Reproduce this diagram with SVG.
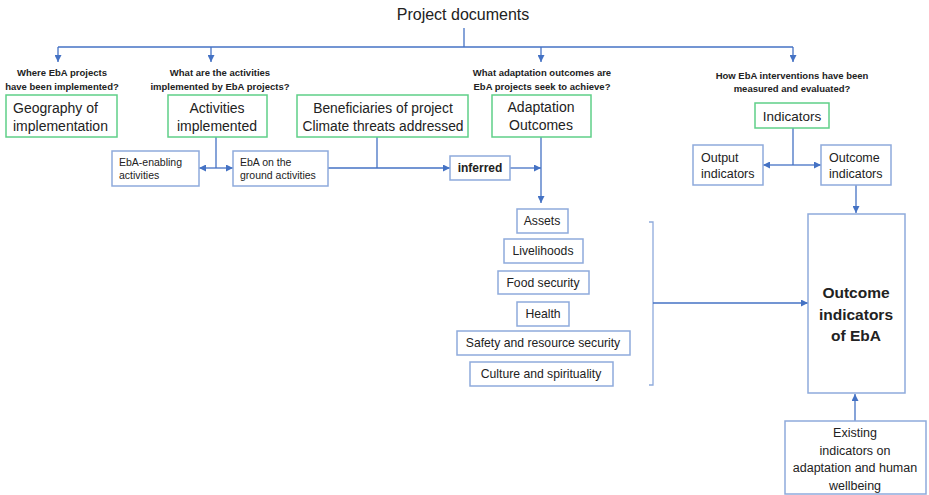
<svg xmlns="http://www.w3.org/2000/svg" width="929" height="495" viewBox="0 0 929 495">
<defs>
<marker id="ah" viewBox="0 0 8 8" refX="8" refY="4" markerWidth="7" markerHeight="7" markerUnits="userSpaceOnUse" orient="auto-start-reverse">
<path d="M0,0 L8,4 L0,8 z" fill="#4472C4"/>
</marker>
<style>
text{font-family:"Liberation Sans",Arial,sans-serif;fill:#222}
.g{fill:#fff;stroke:#5FCF88;stroke-width:1.5}
.b{fill:#fff;stroke:#8EAADC;stroke-width:1.5}
.c{fill:none;stroke:#4472C4;stroke-width:1.3}
.a{marker-end:url(#ah)}
.q{font-size:9.5px;font-weight:bold;text-anchor:middle}
.t14{font-size:14px}
.t12{font-size:12.5px}
.t11{font-size:12.2px;text-anchor:middle}
.t10{font-size:10.5px}
.m{text-anchor:middle}
</style>
</defs>
<rect width="929" height="495" fill="#fff"/>
<g id="title"><text x="463" y="20" font-size="16" class="m">Project documents</text></g>
<g id="connectors">
<path class="c" d="M464,28 V47"/>
<path class="c" d="M58,47 H793"/>
<path class="c a" d="M58,47 V62"/>
<path class="c a" d="M211,47 V62"/>
<path class="c a" d="M541,47 V62"/>
<path class="c a" d="M793,47 V62"/>
<path class="c" d="M216,137 V168"/>
<path class="c a" d="M216,168 H233"/>
<path class="c a" d="M216,168 H199"/>
<path class="c" d="M377,137 V168"/>
<path class="c a" d="M328,168 H450"/>
<path class="c a" d="M510,168 H541"/>
<path class="c a" d="M541,137 V203"/>
<path class="c" d="M793,128 V165"/>
<path class="c a" d="M793,165 H821"/>
<path class="c a" d="M793,165 H763"/>
<path class="c a" d="M856,185 V213"/>
<path class="c" d="M649,222 H653 V385 H649" style="stroke:#8EAADC"/>
<path class="c a" d="M653,303 H808"/>
<path class="c a" d="M855,421 V394"/>
</g>
<g id="q1"><text class="q" x="62" y="76">Where EbA projects</text><text class="q" x="62" y="90">have been implemented?</text></g>
<g id="q2"><text class="q" x="220" y="76">What are the activities</text><text class="q" x="220" y="90">implemented by EbA projects?</text></g>
<g id="q3"><text class="q" x="542" y="76">What adaptation outcomes are</text><text class="q" x="542" y="90">EbA projects seek to achieve?</text></g>
<g id="q4"><text class="q" x="792" y="79">How EbA interventions have been</text><text class="q" x="792" y="92">measured and evaluated?</text></g>
<g id="geography"><rect class="g" x="6" y="95" width="111" height="42"/><text class="t14" x="13" y="113">Geography of</text><text class="t14" x="13" y="131">implementation</text></g>
<g id="activities"><rect class="g" x="168" y="95" width="99" height="42"/><text class="t14 m" x="217" y="113">Activities</text><text class="t14 m" x="217" y="131">implemented</text></g>
<g id="beneficiaries"><rect class="g" x="297" y="95" width="171" height="42"/><text class="m" font-size="13.8" x="383" y="113">Beneficiaries of project</text><text class="m" font-size="13.8" x="383" y="131">Climate threats addressed</text></g>
<g id="adaptation"><rect class="g" x="492" y="95" width="99" height="42"/><text class="t14 m" x="541" y="112">Adaptation</text><text class="t14 m" x="541" y="130">Outcomes</text></g>
<g id="indicators"><rect class="g" x="755" y="103" width="74" height="25"/><text class="m" font-size="13.5" x="792" y="121">Indicators</text></g>
<g id="enabling"><rect class="b" x="112" y="151" width="87" height="35"/><text class="t10" x="119" y="166">EbA-enabling</text><text class="t10" x="119" y="179">activities</text></g>
<g id="ground"><rect class="b" x="233" y="151" width="95" height="35"/><text class="t10" x="240" y="166">EbA on the</text><text class="t10" x="240" y="179">ground activities</text></g>
<g id="inferred"><rect class="b" x="450" y="156" width="60" height="24"/><text class="m" font-size="12" font-weight="bold" x="480" y="172">inferred</text></g>
<g id="output"><rect class="b" x="693" y="145" width="70" height="40"/><text class="t12" x="701" y="162">Output</text><text class="t12" x="701" y="178">indicators</text></g>
<g id="outcome"><rect class="b" x="821" y="145" width="70" height="40"/><text class="t12" x="829" y="162">Outcome</text><text class="t12" x="829" y="178">indicators</text></g>
<g id="assets"><rect class="b" x="517" y="209" width="51" height="24"/><text class="t11" x="542" y="225">Assets</text></g>
<g id="livelihoods"><rect class="b" x="504" y="239" width="79" height="24"/><text class="t11" x="543" y="255">Livelihoods</text></g>
<g id="food"><rect class="b" x="498" y="271" width="91" height="23"/><text class="t11" x="543" y="287">Food security</text></g>
<g id="health"><rect class="b" x="517" y="302" width="52" height="24"/><text class="t11" x="543" y="318">Health</text></g>
<g id="safety"><rect class="b" x="457" y="331" width="173" height="24"/><text class="t11" x="543" y="347">Safety and resource security</text></g>
<g id="culture"><rect class="b" x="470" y="362" width="143" height="24"/><text class="t11" x="541" y="378">Culture and spirituality</text></g>
<g id="eba"><rect class="b" x="808" y="214" width="97" height="179"/><text class="m" font-size="15.5" font-weight="bold" x="856" y="298">Outcome</text><text class="m" font-size="15.5" font-weight="bold" x="856" y="320">indicators</text><text class="m" font-size="15.5" font-weight="bold" x="856" y="341">of EbA</text></g>
<g id="existing"><rect class="b" x="785" y="421" width="141" height="73"/><text class="t12 m" x="855" y="437">Existing</text><text class="t12 m" x="855" y="455">indicators on</text><text class="t12 m" x="855" y="472">adaptation and human</text><text class="t12 m" x="855" y="490">wellbeing</text></g>
</svg>
